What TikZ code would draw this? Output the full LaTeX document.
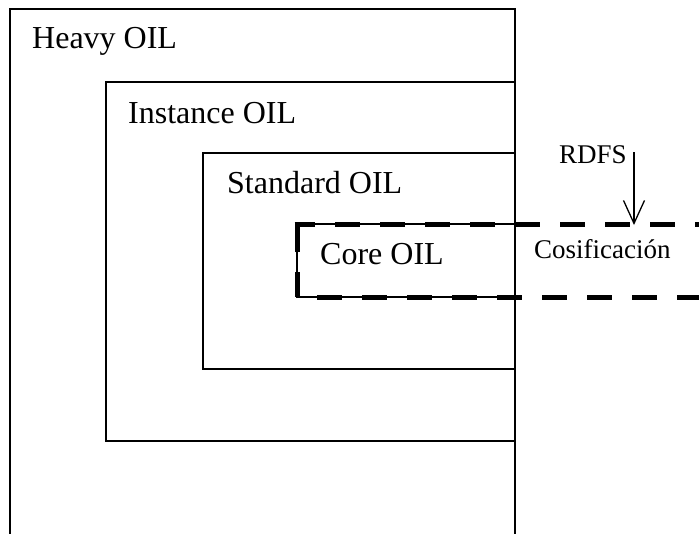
\documentclass[tikz,border=0pt]{standalone}
\usepackage{fontspec}
\setmainfont{Liberation Serif}
\usetikzlibrary{arrows.meta}
\begin{document}
\begin{tikzpicture}[x=1pt,y=-1pt,
  box/.style={black,line width=1.6pt},
  cut/.style={black,line width=5pt,dash pattern=on 25pt off 20pt},
  big/.style={font=\fontsize{32}{36}\selectfont,anchor=base west,inner sep=0pt},
  small/.style={font=\fontsize{27}{30}\selectfont,anchor=base west,inner sep=0pt}]
\clip (0,0) rectangle (699,533);

\draw[box] (10,545) -- (10,9) -- (515,9) -- (515,545);
\draw[box] (515,441) -- (106,441) -- (106,82) -- (515,82);
\draw[box] (515,369) -- (203,369) -- (203,153) -- (515,153);
\draw[box] (515,297) -- (297,297) -- (297,224) -- (515,224);

\draw[cut,dash phase=4.5pt] (294.5,224) -- (710,224);
\draw[cut] (297,297) -- (297,224);
\draw[cut,dash phase=25pt] (297,297) -- (710,297);

\node[big] (heavy) at (32,48) {Heavy OIL};
\node[big] (instance) at (128,123) {Instance OIL};
\node[big] (standard) at (227,193) {Standard OIL};
\node[big] (core) at (320,264) {Core OIL};
\node[small] (rdfs) at (559,163) {RDFS};
\node[small] (cosif) at (534,258) {Cosificación};

\coordinate (rdfs from) at (634,152);
\coordinate (rdfs to) at (634,225);
\draw[line width=1.3pt,-{Straight Barb[length=23pt,width=21pt]}] (rdfs from) -- (rdfs to);
\end{tikzpicture}
\end{document}
